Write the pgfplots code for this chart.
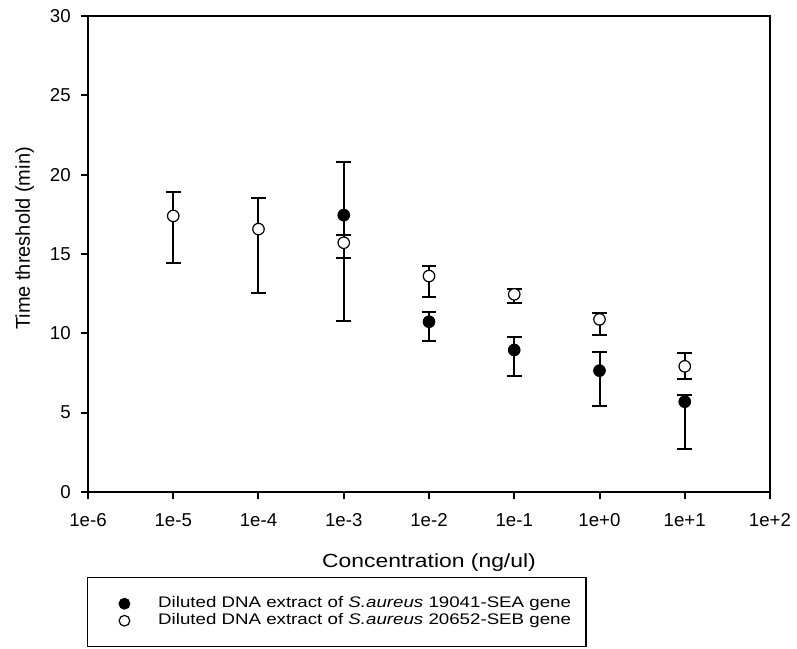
\documentclass[border=0pt]{standalone}
\usepackage{pgfplots}
\pgfplotsset{compat=1.18}
\usepackage{pgfplotstable}
\usepackage{fontspec}
\setmainfont{Liberation Sans}
\newfontfamily\widefont{Liberation Sans}[FakeStretch=1.2]
\newfontfamily\legfont{Liberation Sans}[FakeStretch=1.22]

\pgfplotstableread{
x y ep em
1e-3 17.45 3.35 6.67
1e-2 10.73 0.61 1.22
1e-1 8.95 0.80 1.62
1e0 7.65 1.17 2.23
1e1 5.69 0.42 2.96
}\seaData

\pgfplotstableread{
x y ep em
1e-5 17.40 1.50 2.95
1e-4 16.57 1.98 4.01
1e-3 15.71 0.49 0.94
1e-2 13.61 0.63 1.30
1e-1 12.46 0.31 0.53
1e0 10.88 0.42 0.97
1e1 7.92 0.82 0.80
}\sebData

\begin{document}
\begin{tikzpicture}
\begin{axis}[
  name=ax,
  scale only axis,
  width=511.5pt, height=357pt,
  xmode=log,
  xmin=1e-6, xmax=1e2,
  ymin=0, ymax=30,
  xtick={1e-6,1e-5,1e-4,1e-3,1e-2,1e-1,1e0,1e1,1e2},
  xticklabels={1e-6,1e-5,1e-4,1e-3,1e-2,1e-1,1e+0,1e+1,1e+2},
  xminorticks=false,
  ytick={0,5,10,15,20,25,30},
  tick align=outside,
  tick pos=left,
  major tick length=5.25pt,
  axis line style={line width=1.5pt},
  every tick/.style={line width=1.5pt, black},
  /pgf/number format/assume math mode=true,
  tick label style={font=\fontsize{14}{16}\selectfont, inner sep=0pt},
  xticklabel style={anchor=north, yshift=-10.5pt},
  yticklabel style={anchor=east, xshift=-7.5pt},
  xlabel={Concentration (ng/ul)},
  ylabel={Time threshold (min)},
  xlabel style={at={(axis description cs:0.5,0)}, anchor=base, yshift=-56.8pt, inner sep=0pt,
    font=\widefont\fontsize{14.3}{17}\selectfont},
  ylabel style={at={([xshift=-43.5pt]axis description cs:0,0.5326)}, anchor=base, inner sep=0pt,
    font=\fontsize{15}{17}\selectfont},
  legend style={at={(axis description cs:0,0)}, anchor=north west,
    xshift=-0.75pt, yshift=-63.75pt,
    draw=black, line width=1.1pt,
    font=\legfont\fontsize{11.5}{13}\selectfont,
    inner xsep=11.25pt, inner ysep=14.25pt,
    nodes={inner sep=0pt, text height=8pt, text depth=2.5pt},
    row sep=2.25pt, column sep=15.75pt},
  legend cell align=left,
  legend image code/.code={
    \path (0pt,0pt) (24.75pt,0pt);
    \draw[#1, mark size=4pt] plot coordinates {(15.75pt,0pt)};
  },
]
\addplot[only marks, mark=*, mark size=4.3pt,
  mark options={fill=black, draw=black, line width=0.9pt},
  error bars/.cd, y dir=both, y explicit,
  error bar style={line width=1.5pt, black},
  error mark options={rotate=90, mark size=5.6pt, line width=1.5pt, black}]
  table[x=x, y=y, y error plus=ep, y error minus=em] {\seaData};
\addlegendentry{Diluted DNA extract of \textit{S.aureus} 19041-SEA gene}
\addplot[only marks, mark=*, mark size=4.3pt,
  mark options={fill=white, draw=black, line width=0.9pt},
  error bars/.cd, y dir=both, y explicit,
  error bar style={line width=1.5pt, black},
  error mark options={rotate=90, mark size=5.6pt, line width=1.5pt, black}]
  table[x=x, y=y, y error plus=ep, y error minus=em] {\sebData};
\addlegendentry{Diluted DNA extract of \textit{S.aureus} 20652-SEB gene}
\end{axis}
\useasboundingbox ([xshift=-66pt,yshift=-117pt]ax.south west) rectangle ([xshift=20.25pt,yshift=12pt]ax.north east);
\end{tikzpicture}
\end{document}
